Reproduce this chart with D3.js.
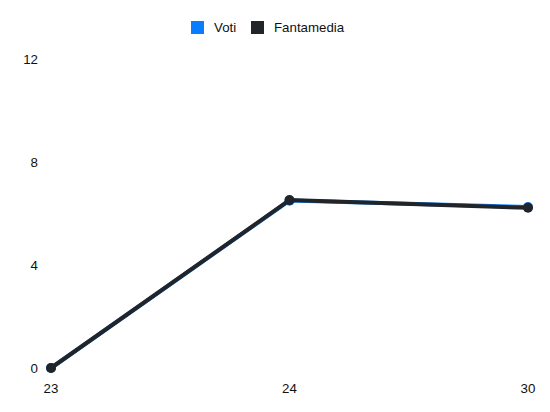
<!DOCTYPE html>
<html>
<head>
<meta charset="utf-8">
<script src="https://cdn.jsdelivr.net/npm/d3@7"></script>
<style>
  body { margin: 0; background: #fff; }
  text { font-family: "Liberation Sans", Arial, sans-serif; font-size: 13.3px; fill: #111; }
</style>
</head>
<body>
<div id="chart"></div>
<script>
const giornate = ["23", "24", "30"];
const voti = [0, 6.5, 6.25];
const fantamedia = [0, 6.52, 6.22];
const yTicks = [0, 4, 8, 12];
const seriesNames = ["Voti", "Fantamedia"];
const seriesColors = ["#0a7cff", "#212529"];

const width = 550, height = 412;
const margin = { top: 59, right: 22, bottom: 44, left: 51 };

const svg = d3.select("#chart").append("svg")
  .attr("width", width)
  .attr("height", height);

const x = d3.scalePoint()
  .domain(giornate)
  .range([margin.left, width - margin.right]);

const y = d3.scaleLinear()
  .domain([0, 12])
  .range([height - margin.bottom, margin.top]);

// y labels
svg.append("g")
  .selectAll("text")
  .data(yTicks)
  .join("text")
  .attr("x", 38)
  .attr("y", d => y(d))
  .attr("dy", "0.35em")
  .attr("text-anchor", "end")
  .text(d => d);

// x labels
svg.append("g")
  .selectAll("text")
  .data(giornate)
  .join("text")
  .attr("x", d => x(d))
  .attr("y", height - margin.bottom + 20)
  .attr("dy", "0.35em")
  .attr("text-anchor", "middle")
  .text(d => d);

const series = [
  { name: seriesNames[0], values: voti, color: seriesColors[0] },
  { name: seriesNames[1], values: fantamedia, color: seriesColors[1] }
];

const line = d3.line()
  .x((d, i) => x(giornate[i]))
  .y(d => y(d));

series.forEach(s => {
  const g = svg.append("g");
  g.append("path")
    .attr("d", line(s.values))
    .attr("fill", "none")
    .attr("stroke", s.color)
    .attr("stroke-width", 4);
  g.selectAll("circle")
    .data(s.values)
    .join("circle")
    .attr("cx", (d, i) => x(giornate[i]))
    .attr("cy", d => y(d))
    .attr("r", 5)
    .attr("fill", s.color);
});

// legend
const legend = svg.append("g");
const legendX = [191, 251];
series.forEach((s, i) => {
  legend.append("rect")
    .attr("x", legendX[i])
    .attr("y", 21)
    .attr("width", 13)
    .attr("height", 13)
    .attr("fill", s.color);
  legend.append("text")
    .attr("x", legendX[i] + 23)
    .attr("y", 27.5)
    .attr("dy", "0.35em")
    .text(s.name);
});
</script>
</body>
</html>
